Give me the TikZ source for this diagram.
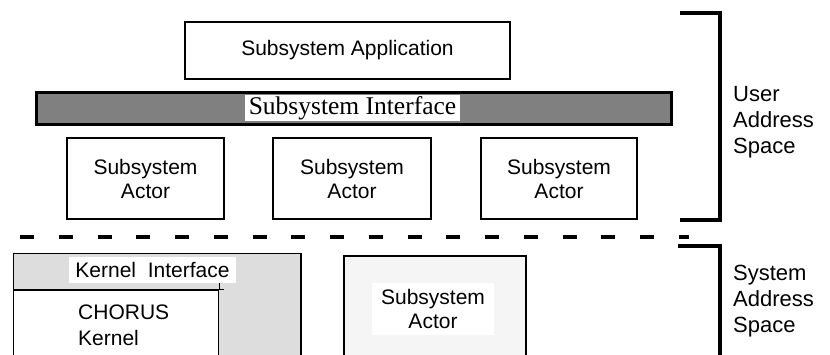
\documentclass[tikz,border=0pt]{standalone}
\usepackage{fontspec}
\setmainfont{Liberation Sans}
\newfontfamily\timesface{Liberation Serif}
\definecolor{bargray}{HTML}{808080}
\definecolor{kernelgray}{HTML}{DDDDDD}
\definecolor{palegray}{HTML}{F5F5F5}
\begin{document}
\begin{tikzpicture}[x=1pt,y=-1pt,
  box/.style={draw=black, line width=1.5pt, fill=white, inner sep=0pt,
    font=\fontsize{21}{24}\selectfont, align=center},
  tag/.style={fill=white, inner sep=0pt, font=\fontsize{21}{24}\selectfont, align=center},
  heavy/.style={line width=4pt, line join=miter},
  side/.style={inner sep=0pt, font=\fontsize{22}{26}\selectfont, align=left, anchor=west},
]
\useasboundingbox (0,0) rectangle (830,354);
\begin{scope}
\clip (0,0) rectangle (830,354);

% user address space
\node[box, minimum width=325, minimum height=57] (app) at (347.5,50.5) {Subsystem Application};
\node[draw=black, line width=3pt, fill=bargray, minimum width=635, minimum height=32] (bar) at (353.5,108) {};
\node[fill=white, inner sep=0pt, minimum width=215, minimum height=26,
      font=\timesface\fontsize{25.5}{28}\selectfont] (iface) at (352.5,108) {Subsystem Interface};

\node[box, line width=1.7pt, minimum width=157, minimum height=81] (act1) at (145.5,178.5) {Subsystem\\Actor};
\node[box, line width=1.7pt, minimum width=158, minimum height=81] (act2) at (352,178.5) {Subsystem\\Actor};
\node[box, line width=1.7pt, minimum width=156, minimum height=81] (act3) at (559,178.5) {Subsystem\\Actor};

% boundary between the two address spaces
\coordinate (dl) at (20,237);
\coordinate (dr) at (689,237);
\draw[line width=4pt, dash pattern=on 14pt off 24.75pt] (dl) -- (dr);

% system address space
\node[draw=black, line width=1.5pt, fill=kernelgray, anchor=north west,
      minimum width=287.3, minimum height=115] (kern) at (12.7,252.7) {};
\node[draw=black, line width=1.2pt, fill=white, anchor=north west,
      minimum width=205.3, minimum height=75] (chorus) at (12.7,289.3) {};
\draw[line width=1.2pt] (chorus.north east) -- ++(5,0);
\draw[line width=1.2pt] (chorus.north east) -- ++(0,-6);
\node[tag, minimum width=167, minimum height=26] (kif) at (152.5,270) {Kernel\ \ Interface};
\node[inner sep=0pt, font=\fontsize{21}{26}\selectfont, align=left, anchor=west] (chtext) at (78,325.5) {CHORUS\\Kernel};

\node[draw=black, line width=1.5pt, fill=palegray, anchor=north west,
      minimum width=182, minimum height=110] (sysact) at (343,255) {};
\node[tag, minimum width=122, minimum height=52] (systag) at (433,309) {Subsystem\\Actor};

% brackets
\coordinate (u1) at (680,13);
\coordinate (u2) at (720,13);
\coordinate (u3) at (720,220);
\coordinate (u4) at (680,220);
\draw[heavy] (u1) -- (u2) -- (u3) -- (u4);
\coordinate (l1) at (678,246);
\coordinate (l2) at (720,246);
\coordinate (l3) at (720,370);
\draw[heavy] (l1) -- (l2) -- (l3);

\node[side] (user) at (733,122) {User\\Address\\Space};
\node[side] (sys) at (733,301) {System\\Address\\Space};
\end{scope}
\end{tikzpicture}
\end{document}
